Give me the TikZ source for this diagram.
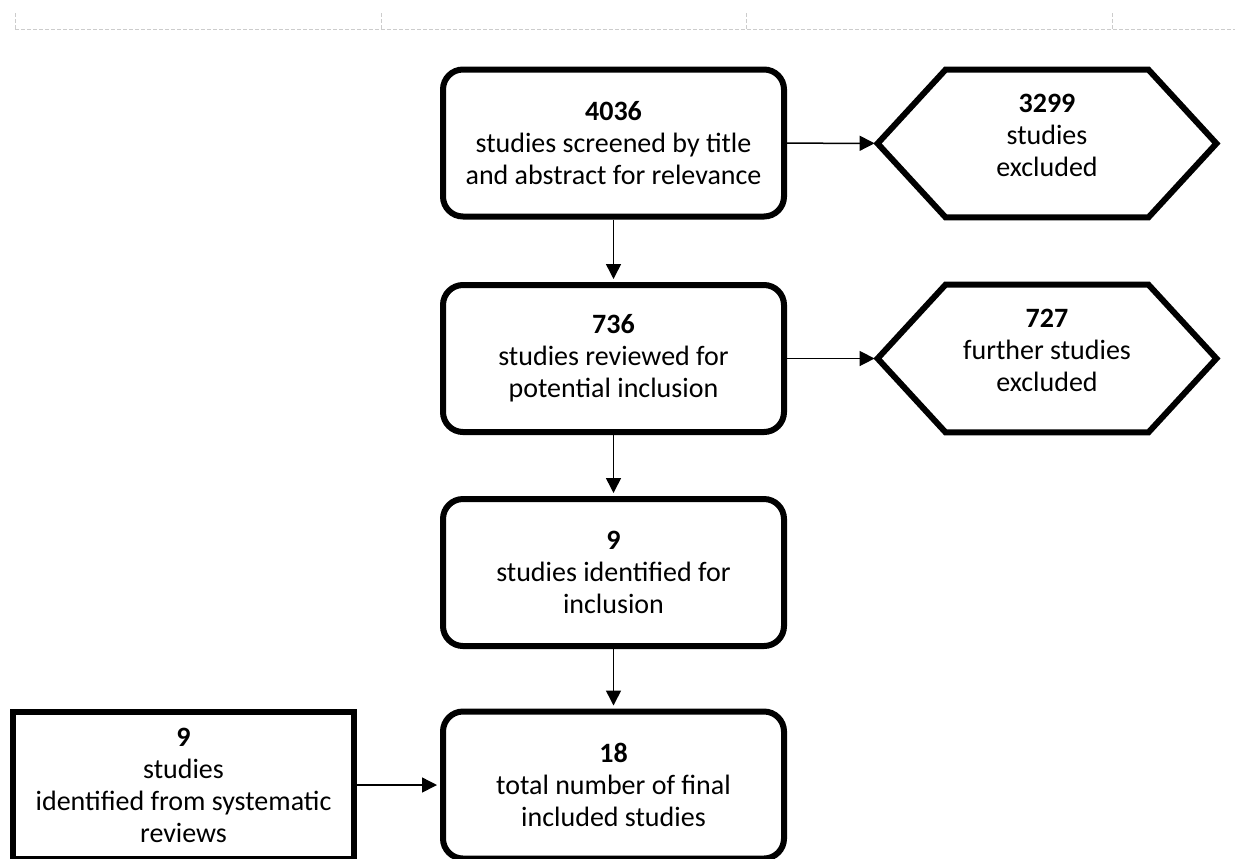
\documentclass[tikz,border=0pt]{standalone}
\usepackage{fontspec}
\setmainfont{Carlito}
\usetikzlibrary{arrows.meta}
\begin{document}
\begin{tikzpicture}[x=0.5pt,y=-0.5pt,
    box/.style={draw,line width=3pt,rounded corners=10pt,inner sep=0pt,
      minimum width=170.5pt,minimum height=73.5pt,align=center,
      font=\fontsize{14}{16}\selectfont},
    flatbox/.style={box,sharp corners},
    hexa/.style={inner sep=0pt,minimum width=169pt,minimum height=73.5pt,
      align=center,text depth=8pt,font=\fontsize{14}{16}\selectfont},
    hexline/.style={line width=3pt,line join=miter},
    arr/.style={-{Triangle[length=7.5pt,width=7.5pt]},line width=0.75pt,shorten >=1.5pt},
    grid/.style={gray!40,line width=0.5pt,dash pattern=on 2pt off 1pt}]
  \useasboundingbox (0,0) rectangle (1235,858);
  \draw [grid] (15,29) -- (1235,29);
  \foreach \x in {15,381,746,1112}
    \draw [grid] (\x,13) -- (\x,29);
  \node [box] (a) at (613.5,143) {\textbf{4036}\\studies screened by title\\and abstract for relevance};
  \node [hexa] (b) at (1047,143.5) {\textbf{3299}\\studies\\excluded};
  \node [box] (c) at (613.5,358.5) {\textbf{736}\\studies reviewed for\\potential inclusion};
  \node [hexa] (d) at (1047,358.5) {\textbf{727}\\further studies\\excluded};
  \node [box] (e) at (613.5,572.5) {\textbf{9}\\studies identified for\\inclusion};
  \node [box] (f) at (613.5,785) {\textbf{18}\\total number of final\\included studies};
  \node [flatbox] (g) at (183.5,785) {\textbf{9}\\studies\\identified from systematic\\reviews};
  \foreach \n in {b,d}
    \draw [hexline] (\n.west) -- ([shift={(68,0)}]\n.north west)
      -- ([shift={(-68,0)}]\n.north east) -- (\n.east)
      -- ([shift={(-68,0)}]\n.south east) -- ([shift={(68,0)}]\n.south west) -- cycle;
  \draw [arr] (a) -- (b);
  \draw [arr] (c) -- (d);
  \draw [arr] (a) -- (c);
  \draw [arr] (c) -- (e);
  \draw [arr] (e) -- (f);
  \draw [arr] (g) -- (f);
\end{tikzpicture}
\end{document}
